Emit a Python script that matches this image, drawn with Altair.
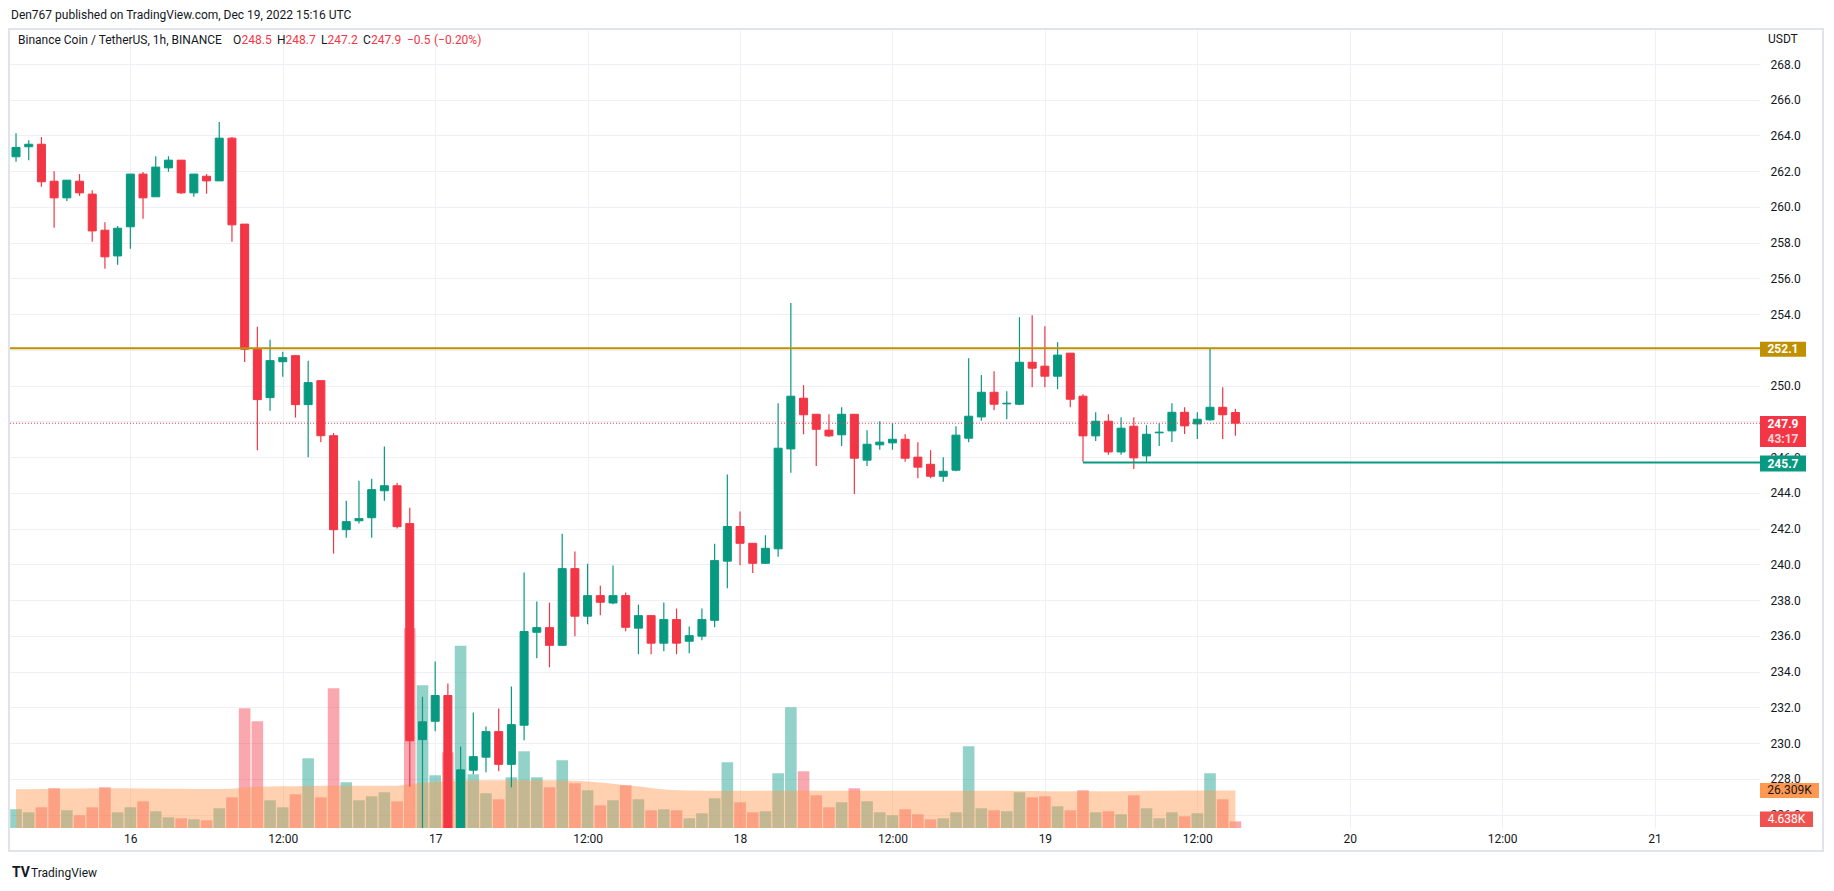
import altair as alt
import pandas as pd

# ---------------- data (hours since 16 Dec 2022 00:00 UTC, one candle per hour) -------------
hour = list(range(-9, 88))  # 15 Dec 15:00 ... 19 Dec 15:00

open_ = [262.81, 263.37, 263.51, 261.44, 260.51, 261.44, 260.72, 258.70, 257.26, 258.89,
         261.84, 260.57, 262.19, 262.62, 260.79, 261.72, 261.46, 263.85, 259.04, 252.04,
         249.33, 251.34, 251.68, 248.94, 250.28, 247.20, 241.94, 242.44, 242.61, 244.12,
         244.40, 242.28, 230.19, 231.22, 232.66, 224.90, 228.48, 229.21, 230.64, 228.81,
         231.00, 236.20, 236.46, 235.47, 239.76, 237.10, 238.25, 237.84, 238.25, 236.43,
         237.13, 235.59, 236.91, 235.70, 235.98, 236.87, 240.18, 242.12, 241.18, 240.06,
         240.87, 246.46, 249.30, 248.40, 247.51, 247.25, 248.40, 245.83, 246.69, 246.80,
         247.00, 246.00, 245.60, 244.93, 245.27, 247.06, 248.25, 249.63, 248.98, 248.96,
         251.31, 251.09, 250.53, 251.82, 249.41, 247.19, 248.01, 246.29, 247.73, 246.07,
         247.36, 247.47, 248.51, 247.86, 248.09, 248.79, 248.50]

high = [264.13, 263.74, 263.91, 262.00, 261.50, 261.84, 260.94, 259.15, 258.93, 261.84,
        261.95, 262.84, 262.84, 262.62, 261.84, 261.84, 264.75, 263.91, 259.04, 253.30,
        252.57, 251.90, 251.68, 251.40, 250.28, 247.35, 243.56, 244.68, 244.79, 246.59,
        244.57, 243.17, 232.59, 234.56, 233.33, 229.80, 231.71, 230.92, 231.93, 233.16,
        239.54, 237.92, 237.86, 241.72, 240.72, 240.04, 238.81, 239.93, 238.42, 237.75,
        237.13, 237.86, 237.53, 236.52, 237.53, 241.16, 245.03, 242.96, 241.18, 241.63,
        249.02, 254.62, 250.03, 248.40, 248.40, 248.79, 248.40, 247.51, 248.01, 247.90,
        247.28, 246.84, 246.39, 246.00, 247.73, 251.54, 250.59, 250.81, 249.69, 253.83,
        253.94, 253.33, 252.43, 251.82, 249.52, 248.51, 248.40, 248.23, 248.23, 247.79,
        247.90, 249.02, 248.79, 248.51, 252.10, 249.91, 248.70]

low = [262.53, 262.62, 261.13, 258.83, 260.34, 260.62, 258.05, 256.54, 256.76, 257.66,
       259.34, 260.57, 261.97, 260.72, 260.57, 260.74, 261.46, 258.05, 251.33, 246.38,
       248.60, 250.50, 248.21, 245.99, 246.83, 240.60, 241.49, 242.28, 241.49, 243.56,
       242.00, 227.57, 224.80, 230.66, 224.50, 224.60, 228.25, 228.37, 228.42, 227.53,
       230.16, 234.75, 234.24, 235.47, 235.98, 236.65, 237.15, 237.77, 236.26, 234.97,
       234.97, 235.14, 234.97, 235.03, 235.75, 236.48, 238.66, 239.95, 239.52, 240.03,
       240.42, 245.12, 247.28, 245.51, 247.13, 246.63, 243.94, 245.51, 246.41, 246.41,
       245.74, 244.82, 244.82, 244.62, 245.21, 246.84, 248.03, 248.63, 248.12, 248.91,
       249.91, 249.91, 249.80, 248.79, 245.74, 246.91, 246.13, 246.13, 245.34, 245.74,
       246.63, 246.85, 247.30, 247.02, 248.03, 247.02, 247.20]

close = [263.33, 263.51, 261.41, 260.51, 261.50, 260.79, 258.66, 257.21, 258.81, 261.84,
         260.51, 262.23, 262.62, 260.79, 261.84, 261.46, 263.85, 259.00, 252.04, 249.22,
         251.40, 251.57, 248.94, 250.17, 247.20, 241.94, 242.39, 242.56, 244.18, 244.40,
         242.11, 230.13, 231.19, 232.66, 224.90, 228.50, 229.24, 230.64, 228.81, 231.03,
         236.24, 236.46, 235.47, 239.76, 237.10, 238.25, 237.88, 238.25, 236.48, 237.13,
         235.59, 236.91, 235.59, 236.01, 236.91, 240.21, 242.12, 241.18, 240.06, 240.90,
         246.50, 249.41, 248.37, 247.56, 247.19, 248.40, 245.94, 246.72, 246.84, 247.00,
         245.94, 245.44, 244.93, 245.21, 247.23, 248.29, 249.63, 248.96, 249.02, 251.31,
         250.98, 250.53, 251.71, 249.24, 247.19, 248.01, 246.29, 247.62, 245.96, 247.28,
         247.40, 248.51, 247.75, 248.12, 248.79, 248.37, 247.90]

# volume in thousands of BNB
volume = [13.1, 11.0, 14.5, 27.8, 12.4, 8.9, 14.5, 28.5, 11.0, 14.5,
          18.7, 11.7, 7.5, 6.8, 6.1, 5.4, 13.8, 21.5, 83.8, 74.7,
          19.4, 14.5, 23.6, 48.8, 21.5, 97.8, 32.0, 19.4, 22.2, 25.0,
          18.7, 139.8, 99.9, 36.9, 53.0, 127.5, 37.6, 24.3, 20.1, 35.5,
          53.7, 35.5, 28.5, 47.4, 31.3, 26.4, 15.9, 19.4, 29.9, 20.1,
          12.4, 13.1, 12.4, 6.8, 10.3, 20.8, 46.0, 18.0, 11.0, 11.7,
          38.3, 84.5, 39.7, 22.9, 14.5, 18.0, 27.8, 18.7, 11.0, 8.9,
          13.1, 9.6, 6.1, 6.8, 11.0, 57.2, 13.8, 12.4, 11.7, 25.0,
          21.5, 22.2, 15.2, 12.4, 26.4, 11.0, 11.7, 9.6, 22.9, 13.8,
          6.8, 11.0, 8.2, 10.3, 38.3, 20.1, 4.638]

vol_ma = [27.1, 27.2, 27.3, 27.5, 27.6, 27.7, 27.8, 27.8, 27.8, 27.8,
          27.7, 27.6, 27.5, 27.4, 27.3, 27.3, 27.3, 27.4, 28.4, 28.9,
          29.1, 29.2, 29.3, 29.4, 29.5, 29.6, 29.6, 29.6, 29.6, 29.6,
          29.6, 30.6, 31.6, 32.2, 32.7, 33.1, 33.3, 33.4, 33.4, 33.4,
          33.4, 33.4, 33.4, 33.3, 33.1, 32.6, 31.9, 31.0, 30.0, 29.2,
          28.0, 27.0, 26.5, 26.2, 26.1, 26.1, 26.1, 26.1, 26.1, 26.1,
          26.1, 26.1, 26.1, 26.1, 26.1, 26.1, 26.1, 26.1, 26.1, 26.1,
          26.1, 26.1, 26.1, 26.1, 26.1, 26.1, 26.1, 26.1, 26.1, 26.1,
          25.9, 25.8, 25.8, 25.8, 25.8, 25.8, 25.8, 25.8, 25.9, 26.0,
          26.1, 26.1, 26.2, 26.2, 26.3, 26.3, 26.309]

x_ticks = [0, 12, 24, 36, 48, 60, 72, 84, 96, 108, 120]
price_ticks = [226, 228, 230, 232, 234, 236, 238, 240, 242, 244, 246, 248,
               250, 252, 254, 256, 258, 260, 262, 264, 266, 268]
resistance = 252.1
support = 245.7
support_from = 75
countdown = "43:17"

# ---------------- styling ----------------
UP, DOWN = "#089981", "#f23645"
GOLD = "#bf9000"
TXT = "#131722"
GRID = "#eef0f5"
FONT = "Roboto"
W, H = 1750, 798

df = pd.DataFrame({"t": hour, "open": open_, "high": high, "low": low,
                   "close": close, "volume": volume, "vol_ma": vol_ma})
df["dir"] = ["up" if c >= o else "down" for o, c in zip(open_, close)]

xs = alt.Scale(domain=[-9.08, 127.906], nice=False, zero=False)
ps = alt.Scale(domain=[225.247, 269.903], nice=False, zero=False)
vs = alt.Scale(domain=[0, 558.6], nice=False, zero=False)

X_AXIS = alt.Axis(values=x_ticks,
                  labelExpr="datum.value % 24 == 0 ? '' + (16 + datum.value / 24) : '12:00'",
                  grid=True, gridColor=GRID, ticks=False, domain=False,
                  labelPadding=10, labelBaseline="middle", labelFlush=False,
                  labelFont=FONT, labelFontSize=12, labelColor=TXT, title=None)
P_AXIS = alt.Axis(orient="right", values=price_ticks, format=".1f",
                  grid=True, gridColor=GRID, ticks=False, domain=False,
                  labelPadding=10, labelFont=FONT, labelFontSize=12,
                  labelColor=TXT, title=None, labelOverlap=False)

X = alt.X("t:Q", scale=xs, axis=X_AXIS)
col = alt.Color("dir:N", scale=alt.Scale(domain=["up", "down"], range=[UP, DOWN]), legend=None)
stk = alt.Stroke("dir:N", scale=alt.Scale(domain=["up", "down"], range=[UP, DOWN]), legend=None)
vfill = alt.Fill("dir:N", scale=alt.Scale(domain=["up", "down"],
                 range=["rgba(8,153,129,0.44)", "rgba(242,54,69,0.43)"]), legend=None)

ONE = pd.DataFrame({"k": [0]})


def txt(s, x, y, size=12, color=TXT, weight="normal", align="left"):
    return alt.Chart(ONE).mark_text(text=s, align=align, baseline="middle", fontSize=size,
                                    font=FONT, color=color, fontWeight=weight).encode(
        x=alt.value(x), y=alt.value(y))


# ---------------- volume pane ----------------
vol_bars = alt.Chart(df).mark_bar(size=11.6, clip=True, fillOpacity=1).encode(
    x=X, y=alt.Y("volume:Q", scale=vs, axis=None), y2=alt.datum(0), fill=vfill)
vol_area = alt.Chart(df).mark_area(color="#ff9850", opacity=0.45, clip=True).encode(
    x=X, y=alt.Y("vol_ma:Q", scale=vs, axis=None))
vtag = pd.DataFrame({"v": [vol_ma[-1], volume[-1]],
                     "label": [f"{vol_ma[-1]:.3f}K", f"{volume[-1]:.3f}K"]})
vt1 = alt.Chart(vtag.iloc[[0]]).mark_rule(color="#ff9850", strokeWidth=15, strokeCap="butt").encode(
    x=alt.value(1750), x2=alt.value(1809), y=alt.Y("v:Q", scale=vs, axis=None))
vt1t = alt.Chart(vtag.iloc[[0]]).mark_text(fontSize=12, font=FONT, color=TXT, align="center",
                                           baseline="middle").encode(
    x=alt.value(1779.5), y=alt.Y("v:Q", scale=vs, axis=None), text="label:N")
vt2 = alt.Chart(vtag.iloc[[1]]).mark_rule(color="#ef5350", strokeWidth=15.5, strokeCap="butt",
                                          yOffset=-2).encode(
    x=alt.value(1750), x2=alt.value(1803), y=alt.Y("v:Q", scale=vs, axis=None))
vt2t = alt.Chart(vtag.iloc[[1]]).mark_text(fontSize=12, font=FONT, color="white", align="center",
                                           baseline="middle", yOffset=-2).encode(
    x=alt.value(1776.5), y=alt.Y("v:Q", scale=vs, axis=None), text="label:N")
vol_group = alt.layer(vol_bars, vol_area, vt1, vt1t, vt2, vt2t)

# ---------------- price pane ----------------
wicks = alt.Chart(df).mark_rule(strokeWidth=1.2, opacity=1, strokeOpacity=1, clip=True).encode(
    x=X, y=alt.Y("low:Q", scale=ps, axis=P_AXIS), y2="high:Q", color=col)
bodies = alt.Chart(df).mark_bar(size=8, strokeWidth=1, opacity=1, fillOpacity=1,
                                strokeOpacity=1, clip=True).encode(
    x=X, y=alt.Y("open:Q", scale=ps, axis=P_AXIS), y2="close:Q", color=col, stroke=stk)

lv = pd.DataFrame({"p": [resistance, support, close[-1]], "t": [hour[0], support_from, hour[-1]],
                   "label": [f"{resistance:.1f}", f"{support:.1f}", f"{close[-1]:.1f}"]})
PY = alt.Y("p:Q", scale=ps, axis=P_AXIS)
gold = alt.Chart(lv.iloc[[0]]).mark_rule(color=GOLD, strokeWidth=2).encode(
    x=alt.value(0), x2=alt.value(W), y=PY)
sup = alt.Chart(lv.iloc[[1]]).mark_rule(color=UP, strokeWidth=2).encode(
    x=X, x2=alt.value(W), y=PY)
lastp = alt.Chart(lv.iloc[[2]]).mark_rule(color=DOWN, strokeWidth=1, strokeDash=[1, 2]).encode(
    x=alt.value(0), x2=alt.value(W), y=PY)

g_box = alt.Chart(lv.iloc[[0]]).mark_rule(color=GOLD, strokeWidth=15, strokeCap="butt", yOffset=1).encode(
    x=alt.value(1750), x2=alt.value(1796), y=PY)
g_txt = alt.Chart(lv.iloc[[0]]).mark_text(fontSize=12, font=FONT, color="white", fontWeight="bold",
                                          align="center", baseline="middle", yOffset=1).encode(
    x=alt.value(1773), y=PY, text="label:N")
s_box = alt.Chart(lv.iloc[[1]]).mark_rule(color=UP, strokeWidth=16, strokeCap="butt", yOffset=1).encode(
    x=alt.value(1750), x2=alt.value(1796), y=PY)
s_txt = alt.Chart(lv.iloc[[1]]).mark_text(fontSize=12, font=FONT, color="white", fontWeight="bold",
                                          align="center", baseline="middle", yOffset=1).encode(
    x=alt.value(1773), y=PY, text="label:N")
l_box = alt.Chart(lv.iloc[[2]]).mark_rule(color=DOWN, strokeWidth=31, strokeCap="butt", yOffset=8.3).encode(
    x=alt.value(1750), x2=alt.value(1796), y=PY)
l_txt = alt.Chart(lv.iloc[[2]]).mark_text(fontSize=12, font=FONT, color="white", fontWeight="bold",
                                          align="center", baseline="middle", yOffset=1).encode(
    x=alt.value(1773), y=PY, text="label:N")
l_cd = alt.Chart(lv.iloc[[2]]).mark_text(text=countdown, fontSize=12, font=FONT, color="#fdd3d7",
                                         fontWeight="bold", align="center", baseline="middle",
                                         yOffset=15.5).encode(x=alt.value(1773), y=PY)

price_group = alt.layer(wicks, bodies, gold, sup, lastp, g_box, g_txt, s_box, s_txt, l_box, l_txt, l_cd)

# ---------------- decorations ----------------
frame = alt.Chart(ONE).mark_rect(fillOpacity=0, stroke="#e0e3eb", strokeWidth=2).encode(
    x=alt.value(-1), x2=alt.value(1813), y=alt.value(-1), y2=alt.value(821))
deco = alt.layer(
    frame,
    txt("Den767 published on TradingView.com, Dec 19, 2022 15:16 UTC", 1, -15, size=12),
    txt("Binance Coin / TetherUS, 1h, BINANCE", 8, 10),
    txt("O", 223, 10), txt("248.5", 231.5, 10, color=DOWN),
    txt("H", 267, 10), txt("248.7", 275.5, 10, color=DOWN),
    txt("L", 311, 10), txt("247.2", 317.5, 10, color=DOWN),
    txt("C", 353, 10), txt("247.9", 361, 10, color=DOWN),
    txt("\u22120.5", 397, 10, color=DOWN), txt("(\u22120.20%)", 424, 10, color=DOWN),
    txt("USDT", 1758, 9),
    txt("TV", 2, 842.5, size=14, weight="bold"),
    txt("TradingView", 21, 842.5, size=12),
)

chart = alt.layer(vol_group, price_group, deco).resolve_scale(y="independent").properties(
    width=W, height=H,
    autosize=alt.AutoSizeParams(type="none"),
    padding={"left": 2, "top": 22, "right": 66, "bottom": 55},
    background="white",
).configure_view(strokeWidth=0)

chart.save("out.html", embed_options={"renderer": "svg", "actions": False})
